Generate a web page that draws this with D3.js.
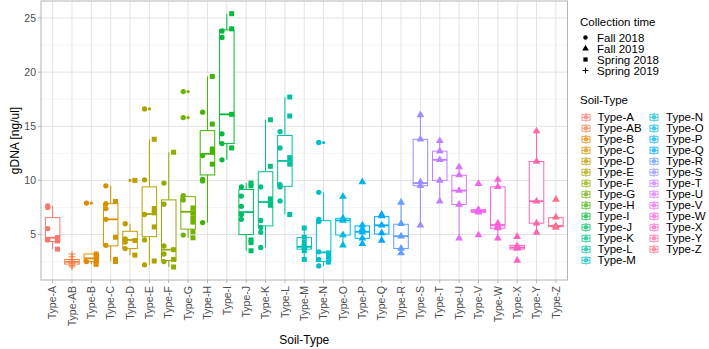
<!DOCTYPE html>
<html>
<head>
<meta charset="utf-8">
<script src="https://cdn.jsdelivr.net/npm/d3@7"></script>
<style>
  body { margin: 0; background: #fff; }
  text { font-family: "Liberation Sans", Arial, sans-serif; }
</style>
</head>
<body>
<div id="chart"></div>
<script>
// soil types on the x axis
var soilTypes = ["Type-A", "Type-AB", "Type-B", "Type-C", "Type-D", "Type-E", "Type-F", "Type-G", "Type-H",
  "Type-I", "Type-J", "Type-K", "Type-L", "Type-M", "Type-N", "Type-O", "Type-P", "Type-Q", "Type-R",
  "Type-S", "Type-T", "Type-U", "Type-V", "Type-W", "Type-X", "Type-Y", "Type-Z"];

var collectionTimes = ["Fall 2018", "Fall 2019", "Spring 2018", "Spring 2019"];

// box stats per soil type: [lower whisker, q1, median, q3, upper whisker]
var boxStats = [
  [3.65, 4.35, 4.7, 6.56, 7.65], [1.97, 2.27, 2.48, 2.7, 3.2], [2.25, 2.5, 2.8, 3.2, 3.2],
  [2.5, 3.95, 6.4, 7.85, 9.5], [3.1, 3.7, 4.5, 5.3, 6.0], [2.2, 4.8, 6.9, 9.4, 13.8],
  [2.0, 2.6, 3.6, 8.2, 12.6], [4.7, 5.5, 7.1, 8.5, 8.6], [6.1, 10.5, 12.45, 14.6, 19.6],
  [11.9, 13.4, 16.1, 23.9, 25.4], [3.5, 5.0, 7.07, 9.16, 9.77], [3.8, 5.8, 8.0, 10.8, 15.6],
  [6.85, 9.45, 11.8, 14.15, 17.7], [2.7, 3.65, 3.86, 4.72, 5.6], [2.1, 2.5, 3.35, 6.28, 8.9],
  [4.0, 4.95, 6.3, 6.5, 8.5], [4.15, 4.65, 5.25, 5.8, 5.85], [4.45, 5.05, 5.85, 6.65, 6.85],
  [3.28, 3.7, 4.85, 5.95, 7.95], [5.85, 9.5, 9.75, 13.8, 16.05], [8.08, 10.0, 11.9, 12.7, 13.65],
  [4.65, 7.78, 9.06, 10.47, 11.23], [7.05, 7.05, 7.17, 7.3, 7.3], [4.66, 5.58, 5.88, 9.4, 10.07],
  [3.65, 3.65, 3.8, 4.0, 4.0], [5.18, 6.05, 8.08, 11.75, 14.55], [5.65, 5.73, 5.8, 6.56, 6.6]
];

// boxplot outliers per soil type
var outlierValues = [
  [], [], [7.9], [], [10.0], [16.6], [], [18.2, 15.8], [], [], [], [], [], [], [13.5],
  [], [9.85], [], [], [], [], [], [9.7, 4.95], [], [4.8, 2.6], [], [8.24]
];

// gDNA values per soil type, one array per collection time
var fall2018 = [
  [7.65, 7.5, 5.55, 4.5], [], [7.9, 2.5], [9.5, 7.85, 7.4, 6.4, 4.0], [6.0, 4.6, 4.3, 3.7],
  [16.6, 10.05, 6.85, 4.5, 2.2], [9.75, 7.8, 3.95, 3.2, 2.5], [18.2, 15.8, 8.6, 8.2, 4.95],
  [16.3, 12.3, 10.1, 9.95, 6.1], [23.8, 23.2, 14.3, 13.4, 11.9], [9.4, 8.55, 7.6, 6.85, 6.4],
  [9.4, 6.3, 5.65, 5.2, 3.8], [14.5, 13.0, 9.6, 9.4, 8.1], [], [13.5, 8.9, 6.4, 6.2, 3.4, 2.7, 2.1],
  [], [], [], [], [], [], [], [], [], [], [], []
];
var fall2019 = [
  [], [], [], [], [], [], [], [], [], [], [], [], [], [], [],
  [8.5, 6.5, 6.3, 4.95, 4.0], [9.85, 5.85, 5.5, 5.2, 4.65, 4.15], [6.85, 6.7, 5.85, 5.15, 4.45],
  [7.95, 6.0, 4.85, 3.7, 3.28], [16.05, 13.8, 9.85, 9.5, 5.85], [13.65, 12.7, 11.9, 10.0, 8.08],
  [11.23, 10.5, 9.06, 7.78, 4.65], [9.7, 7.3, 7.17, 7.05, 4.95], [10.07, 9.4, 6.04, 5.8, 5.6, 4.66],
  [4.8, 3.95, 3.8, 3.7, 2.6], [14.55, 11.75, 8.08, 6.05, 5.18], [8.24, 6.6, 5.8, 5.65]
];
var spring2018 = [
  [4.72, 4.41, 3.65], [], [3.2, 2.85, 2.5, 2.25], [8.05, 4.75, 2.7, 2.5], [10.0, 4.45, 3.1],
  [13.8, 7.4, 7.0, 5.7, 2.55], [12.6, 3.6, 2.7, 2.0], [7.45, 7.0, 6.55, 6.15, 5.25, 4.7],
  [19.6, 15.2, 12.9, 12.65, 11.5], [25.4, 24.0, 16.1, 13.0], [9.75, 9.5, 4.5, 4.25, 3.5],
  [15.6, 11.3, 8.3, 8.1, 7.7], [17.7, 15.95, 12.1, 11.5, 6.85], [5.6, 4.75, 4.3, 3.9, 3.8, 3.5, 2.7],
  [3.3, 2.9, 2.45], [], [], [], [], [], [], [], [], [], [], [], []
];
var spring2019 = [
  [], [3.2, 2.95, 2.7, 2.55, 2.45, 2.35, 2.15, 2.0], [], [], [], [], [], [], [], [], [], [], [], [], [],
  [], [], [], [], [], [], [], [], [], [], [], []
];
var seriesByTime = [fall2018, fall2019, spring2018, spring2019];

var yTicks = [5, 10, 15, 20, 25];
var yMinor = [2.5, 7.5, 12.5, 17.5, 22.5];

// ggplot style hue palette (polar LUV)
function hueColor(h, c, l) {
  var hr = h * Math.PI / 180;
  var U = c * Math.cos(hr), V = c * Math.sin(hr);
  var Xn = 95.047, Yn = 100, Zn = 108.883;
  var un = 4 * Xn / (Xn + 15 * Yn + 3 * Zn), vn = 9 * Yn / (Xn + 15 * Yn + 3 * Zn);
  var Y = l > 8 ? Yn * Math.pow((l + 16) / 116, 3) : Yn * l / 903.3;
  var up = U / (13 * l) + un, vp = V / (13 * l) + vn;
  var X = Y * 9 * up / (4 * vp);
  var Z = Y * (12 - 3 * up - 20 * vp) / (4 * vp);
  var x = X / 100, y = Y / 100, z = Z / 100;
  var r = 3.240479 * x - 1.537150 * y - 0.498535 * z;
  var g = -0.969256 * x + 1.875992 * y + 0.041556 * z;
  var b = 0.055648 * x - 0.204043 * y + 1.057311 * z;
  function gam(t) {
    t = Math.max(0, Math.min(1, t));
    return 255 * (t <= 0.0031308 ? 12.92 * t : 1.055 * Math.pow(t, 1 / 2.4) - 0.055);
  }
  return d3.rgb(gam(r), gam(g), gam(b)).formatHex();
}
var palette = soilTypes.map(function (d, i) { return hueColor(15 + i * 360 / soilTypes.length, 100, 65); });
var color = d3.scaleOrdinal().domain(soilTypes).range(palette);

var width = 709, height = 349;
var panel = { left: 41, right: 567.5, top: 1, bottom: 280 };

var svg = d3.select("#chart").append("svg")
  .attr("width", width)
  .attr("height", height);

var x = d3.scalePoint().domain(soilTypes).range([panel.left, panel.right]).padding(0.6);
var step = x.step();

var allValues = d3.merge(boxStats).concat(d3.merge(outlierValues));
seriesByTime.forEach(function (s) { allValues = allValues.concat(d3.merge(s)); });
var vmin = d3.min(allValues), vmax = d3.max(allValues);
var pad = (vmax - vmin) * 0.05;
var y = d3.scaleLinear().domain([vmin - pad, vmax + pad]).range([panel.bottom, panel.top]);

// grid
var grid = svg.append("g");
yMinor.forEach(function (t) {
  grid.append("line").attr("x1", panel.left).attr("x2", panel.right)
    .attr("y1", y(t)).attr("y2", y(t)).attr("stroke", "#ebebeb").attr("stroke-width", 0.5);
});
yTicks.forEach(function (t) {
  grid.append("line").attr("x1", panel.left).attr("x2", panel.right)
    .attr("y1", y(t)).attr("y2", y(t)).attr("stroke", "#e3e3e3").attr("stroke-width", 1);
});
soilTypes.forEach(function (s) {
  grid.append("line").attr("x1", x(s)).attr("x2", x(s))
    .attr("y1", panel.top).attr("y2", panel.bottom).attr("stroke", "#e3e3e3").attr("stroke-width", 1);
});

// boxplots
var boxW = step * 0.75;
var boxes = svg.append("g");
soilTypes.forEach(function (s, i) {
  var b = boxStats[i], cx = x(s), col = color(s);
  var g = boxes.append("g").attr("stroke", col).attr("fill", "none");
  g.append("line").attr("x1", cx).attr("x2", cx).attr("y1", y(b[3])).attr("y2", y(b[4])).attr("stroke-width", 1);
  g.append("line").attr("x1", cx).attr("x2", cx).attr("y1", y(b[1])).attr("y2", y(b[0])).attr("stroke-width", 1);
  g.append("rect").attr("x", cx - boxW / 2).attr("width", boxW)
    .attr("y", y(b[3])).attr("height", Math.max(0.5, y(b[1]) - y(b[3])))
    .attr("fill", "white").attr("stroke-width", 1);
  g.append("line").attr("x1", cx - boxW / 2).attr("x2", cx + boxW / 2)
    .attr("y1", y(b[2])).attr("y2", y(b[2])).attr("stroke-width", 1.8);
  outlierValues[i].forEach(function (v) {
    boxes.append("circle").attr("cx", cx).attr("cy", y(v)).attr("r", 1.6).attr("fill", col);
  });
});

// shapes for collection time
var shapeFor = [d3.symbolCircle, d3.symbolTriangle, d3.symbolSquare, null];
var shapeSize = [22, 26, 25, 0];
function drawShape(g, ti, px, py, col, scale) {
  scale = scale || 1;
  if (ti === 3) {
    var h = 3.4 * scale;
    g.append("path")
      .attr("d", "M" + (px - h) + "," + py + "H" + (px + h) + "M" + px + "," + (py - h) + "V" + (py + h))
      .attr("stroke", col).attr("stroke-width", 1).attr("fill", "none");
  } else {
    g.append("path")
      .attr("d", d3.symbol().type(shapeFor[ti]).size(shapeSize[ti] * scale * scale)())
      .attr("transform", "translate(" + px + "," + py + ")")
      .attr("fill", col);
  }
}

// points, dodged by collection time inside each soil type
var pts = svg.append("g");
soilTypes.forEach(function (s, i) {
  var present = [];
  seriesByTime.forEach(function (ser, ti) { if (ser[i].length) present.push(ti); });
  var dodge = d3.scaleBand().domain(present).range([-step / 2, step / 2]);
  present.forEach(function (ti) {
    var off = present.length > 1 ? dodge(ti) + dodge.bandwidth() / 2 : 0;
    seriesByTime[ti][i].forEach(function (v) {
      drawShape(pts, ti, x(s) + off, y(v), color(s));
    });
  });
});

// panel border
svg.append("rect").attr("x", panel.left).attr("y", panel.top)
  .attr("width", panel.right - panel.left).attr("height", panel.bottom - panel.top)
  .attr("fill", "none").attr("stroke", "#b3b3b3").attr("stroke-width", 1);

// axes
var yAxis = svg.append("g");
yTicks.forEach(function (t) {
  yAxis.append("line").attr("x1", panel.left - 3).attr("x2", panel.left)
    .attr("y1", y(t)).attr("y2", y(t)).attr("stroke", "#b3b3b3");
  yAxis.append("text").attr("x", panel.left - 5).attr("y", y(t)).attr("dy", "0.35em")
    .attr("text-anchor", "end").attr("font-size", "10.5px").attr("fill", "#4d4d4d").text(t);
});
var xAxis = svg.append("g");
soilTypes.forEach(function (s) {
  xAxis.append("line").attr("x1", x(s)).attr("x2", x(s))
    .attr("y1", panel.bottom).attr("y2", panel.bottom + 3).attr("stroke", "#b3b3b3");
  xAxis.append("text").attr("transform", "translate(" + x(s) + "," + (panel.bottom + 6) + ") rotate(-90)")
    .attr("dy", "0.35em").attr("text-anchor", "end")
    .attr("font-size", "10.5px").attr("fill", "#4d4d4d").text(s);
});

svg.append("text").attr("x", (panel.left + panel.right) / 2).attr("y", 344)
  .attr("text-anchor", "middle").attr("font-size", "12px").attr("fill", "#000").text("Soil-Type");
svg.append("text").attr("transform", "translate(15," + ((panel.top + panel.bottom) / 2) + ") rotate(-90)")
  .attr("text-anchor", "middle").attr("dy", "0.35em").attr("font-size", "12px").attr("fill", "#000")
  .text("gDNA [ng/ul]");

// legend: collection time
var leg = svg.append("g");
leg.append("text").attr("x", 580).attr("y", 26).attr("font-size", "11.5px").text("Collection time");
collectionTimes.forEach(function (t, i) {
  var cy = 37.5 + i * 11;
  drawShape(leg, i, 585.5, cy, "#000", 0.85);
  leg.append("text").attr("x", 597).attr("y", cy).attr("dy", "0.36em").attr("font-size", "11.5px").text(t);
});

// legend: soil type
leg.append("text").attr("x", 580).attr("y", 104).attr("font-size", "11.5px").text("Soil-Type");
soilTypes.forEach(function (s, i) {
  var col = i < 14 ? 0 : 1, row = i < 14 ? i : i - 14;
  var kx = col === 0 ? 586 : 654, ky = 117.3 + row * 11;
  var c = color(s);
  var k = leg.append("g").attr("opacity", 0.75);
  k.append("line").attr("x1", kx).attr("x2", kx).attr("y1", ky - 4.5).attr("y2", ky + 4.5).attr("stroke", c);
  k.append("rect").attr("x", kx - 4).attr("y", ky - 3).attr("width", 8).attr("height", 6)
    .attr("fill", "white").attr("stroke", c);
  k.append("line").attr("x1", kx - 4).attr("x2", kx + 4).attr("y1", ky).attr("y2", ky).attr("stroke", c);
  k.append("circle").attr("cx", kx).attr("cy", ky).attr("r", 2.2).attr("fill", c);
  leg.append("text").attr("x", col === 0 ? 597.5 : 666).attr("y", ky).attr("dy", "0.36em")
    .attr("font-size", "11.5px").text(s);
});
</script>
</body>
</html>
